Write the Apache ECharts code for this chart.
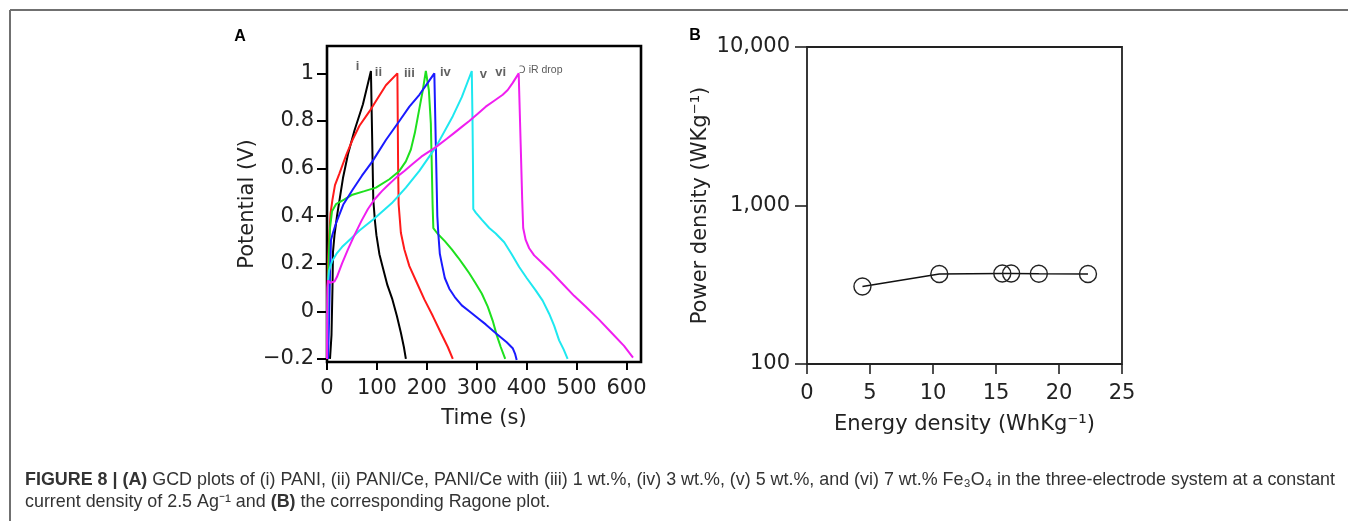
<!DOCTYPE html>
<html>
<head>
<meta charset="utf-8">
<script src="https://cdn.jsdelivr.net/npm/echarts@6/dist/echarts.min.js"></script>
<style>
  html, body { margin: 0; padding: 0; background: #fff; }
  #chart { width: 1348px; height: 521px; }
</style>
</head>
<body>
<div id="chart"></div>
<script>
// ---- panel A : GCD curves, [time (s), potential (V)] ----
var curveI = [[6,-0.2],[9,-0.1],[11,0.1],[12,0.25],[15,0.32],[20,0.40],[26,0.48],[32,0.56],[42,0.66],[55,0.76],[72,0.87],[88,1.01],
  [92.7,0.47],[96,0.38],[99,0.32],[105,0.24],[111,0.19],[121,0.11],[131,0.05],[140,-0.02],[148,-0.09],[154,-0.15],[158,-0.2]];
var curveII = [[0,-0.2],[0.5,0],[2,0.2],[4,0.3],[7,0.41],[11,0.47],[16,0.53],[25,0.58],[39,0.66],[51,0.72],[65,0.78],[85,0.84],[100,0.89],[118,0.95],[141,1.0],
  [142.5,0.6],[143.5,0.45],[148,0.33],[155,0.26],[165,0.19],[180,0.12],[195,0.05],[212,-0.02],[228,-0.09],[242,-0.15],[252,-0.2]];
var curveIII = [[0,-0.2],[2,0.1],[4,0.25],[6,0.35],[10,0.42],[18,0.45],[35,0.47],[51,0.49],[75,0.505],[98,0.52],[125,0.555],[145,0.59],[158,0.63],[168,0.68],[176,0.75],[184,0.84],[192,0.93],[198,1.01],
  [204,0.93],[208,0.79],[210,0.6],[211.5,0.45],[213,0.35],[222,0.325],[236,0.295],[250,0.26],[263,0.225],[275,0.19],[285,0.16],[297,0.12],[310,0.075],[322,0.02],[332,-0.04],[340,-0.1],[348,-0.15],[357,-0.2]];
var curveIV = [[2,-0.2],[4,-0.05],[6,0.15],[8,0.3],[12,0.33],[18,0.37],[33,0.45],[51,0.51],[70,0.57],[91,0.63],[118,0.72],[145,0.80],[165,0.86],[185,0.91],[200,0.955],[215,1.0],
  [218,0.7],[221,0.4],[223,0.326],[226,0.242],[231,0.19],[236,0.14],[245,0.095],[256,0.06],[270,0.025],[285,0.0],[300,-0.025],[318,-0.055],[340,-0.095],[360,-0.13],[372,-0.155],[377,-0.18],[380,-0.205]];
var curveV = [[0,-0.2],[1,0],[2,0.12],[4,0.17],[10,0.21],[20,0.245],[30,0.27],[45,0.30],[65,0.34],[95,0.39],[130,0.455],[158,0.52],[185,0.59],[218,0.69],[252,0.82],[270,0.9],[290,1.01],
  [291.5,0.8],[292.5,0.6],[293,0.43],[298,0.415],[310,0.385],[325,0.35],[338,0.327],[355,0.29],[370,0.24],[385,0.186],[400,0.14],[418,0.088],[432,0.045],[445,-0.01],[455,-0.06],[465,-0.122],[474,-0.16],[482,-0.2]];
var curveVI = [[0,-0.2],[0.5,0],[1,0.1],[2,0.13],[6,0.12],[10,0.115],[15,0.125],[20,0.145],[30,0.2],[42,0.26],[55,0.32],[69,0.38],[82,0.43],[95,0.47],[110,0.505],[122,0.53],[140,0.565],[155,0.59],[172,0.62],[189,0.65],[218,0.69],[240,0.725],[255,0.75],[270,0.775],[285,0.80],[302,0.83],[318,0.86],[335,0.885],[352,0.91],[362,0.93],[372,0.96],[384,1.0],
  [388,0.7],[391,0.47],[393,0.35],[398,0.30],[405,0.265],[415,0.235],[430,0.205],[445,0.175],[470,0.12],[495,0.065],[518,0.02],[545,-0.035],[570,-0.09],[595,-0.145],[613,-0.195]];

var curveColors = ['#000000', '#ff1a1a', '#1ee01e', '#1a1aff', '#1ee8f0', '#f01ef0'];

// curve labels
var labelTexts = ['i', 'ii', 'iii', 'iv', 'v', 'vi', '\u2183 iR drop'];
var labelTimes = [61, 103, 165, 237, 313, 348, 428];
var labelPots = [1.03, 1.005, 1.0, 1.005, 0.995, 1.005, 1.015];

var timeTicks = [0, 100, 200, 300, 400, 500, 600];
var potTicks = [-0.2, 0, 0.2, 0.4, 0.6, 0.8, 1];

// ---- panel B : Ragone plot ----
var energyDensity = [4.4, 10.5, 15.5, 16.2, 18.4, 22.3];
var powerDensity = [308, 370, 372, 372, 371, 370];

var chart = echarts.init(document.getElementById('chart'), null, { renderer: 'canvas' });

var curves = [curveI, curveII, curveIII, curveIV, curveV, curveVI];
var series = curves.map(function (c, i) {
  return {
    type: 'line', xAxisIndex: 0, yAxisIndex: 0,
    data: c, showSymbol: false, symbol: 'none', smooth: false,
    lineStyle: { color: curveColors[i], width: 2 },
    z: 2 + i
  };
});

series.push({
  type: 'scatter', xAxisIndex: 0, yAxisIndex: 0,
  symbolSize: 1, itemStyle: { color: 'transparent' },
  data: labelTexts.map(function (t, i) { return { name: t, value: [labelTimes[i], labelPots[i]] }; }),
  label: {
    show: true, position: 'inside',
    formatter: function (p) { return p.name.indexOf('iR') >= 0 ? '{s|' + p.name + '}' : '{m|' + p.name + '}'; },
    rich: {
      m: { fontFamily: 'Liberation Sans', fontWeight: 'bold', fontSize: 13, color: '#3a3a3a' },
      s: { fontFamily: 'Liberation Sans', fontSize: 10.5, color: '#303030' }
    }
  },
  z: 20
});

series.push({
  type: 'line', xAxisIndex: 1, yAxisIndex: 1,
  data: energyDensity.map(function (e, i) { return [e, powerDensity[i]]; }),
  symbol: 'circle', symbolSize: 17, showSymbol: true,
  lineStyle: { color: '#111', width: 1.6 },
  itemStyle: { color: 'transparent', borderColor: '#222', borderWidth: 1.4 }
});

var tickFont = { fontFamily: 'DejaVu Sans', fontSize: 21, color: '#222' };
var nameFont = { fontFamily: 'DejaVu Sans', fontSize: 21, color: '#222' };

var option = {
  animation: false,
  backgroundColor: '#fff',
  grid: [
    { left: 327, top: 46, width: 314, height: 316, show: true, borderColor: '#000', borderWidth: 2.6, backgroundColor: 'transparent', outerBoundsMode: 'none' },
    { left: 807, top: 47, width: 315, height: 317, show: true, borderColor: '#222', borderWidth: 1.8, backgroundColor: 'transparent', outerBoundsMode: 'none' }
  ],
  xAxis: [
    {
      gridIndex: 0, type: 'value', min: 0, max: 629,
      axisLine: { show: false, onZero: false },
      axisTick: { show: true, customValues: timeTicks, length: 8, lineStyle: { color: '#000', width: 2 } },
      axisLabel: Object.assign({ customValues: timeTicks, margin: 16 }, tickFont),
      splitLine: { show: false },
      name: 'Time (s)', nameLocation: 'middle', nameGap: 46, nameTextStyle: Object.assign({ verticalAlign: 'top' }, nameFont)
    },
    {
      gridIndex: 1, type: 'value', min: 0, max: 25, interval: 5,
      axisLine: { show: false, onZero: false },
      axisTick: { show: true, length: 10, lineStyle: { color: '#222', width: 1.6 } },
      axisLabel: Object.assign({ margin: 19 }, tickFont),
      splitLine: { show: false },
      name: 'Energy density (WhKg\u207B\u00B9)', nameLocation: 'middle', nameGap: 50, nameTextStyle: Object.assign({ verticalAlign: 'top' }, nameFont)
    }
  ],
  yAxis: [
    {
      gridIndex: 0, type: 'value', min: -0.213, max: 1.115,
      axisLine: { show: false, onZero: false },
      axisTick: { show: true, customValues: potTicks, length: 10, lineStyle: { color: '#000', width: 2 } },
      axisLabel: Object.assign({
        customValues: potTicks, margin: 13,
        formatter: function (v) { return v < 0 ? '\u2212' + Math.abs(v) : String(v); }
      }, tickFont),
      splitLine: { show: false },
      name: 'Potential (V)', nameLocation: 'middle', nameGap: 69, nameTextStyle: nameFont
    },
    {
      gridIndex: 1, type: 'log', logBase: 10, min: 100, max: 10000,
      axisLine: { show: false, onZero: false },
      axisTick: { show: true, length: 12, lineStyle: { color: '#222', width: 1.6 } },
      minorTick: { show: false },
      axisLabel: Object.assign({
        margin: 17,
        formatter: function (v) { return Math.round(v).toLocaleString('en-US'); }
      }, tickFont),
      splitLine: { show: false },
      name: 'Power density (WKg\u207B\u00B9)', nameLocation: 'middle', nameGap: 96, nameTextStyle: nameFont
    }
  ],
  series: series,
  graphic: [
    { type: 'line', shape: { x1: 10, y1: 10, x2: 1348, y2: 10 }, style: { stroke: '#707070', lineWidth: 2 } },
    { type: 'line', shape: { x1: 10, y1: 10, x2: 10, y2: 521 }, style: { stroke: '#707070', lineWidth: 2 } },
    { type: 'text', x: 240, y: 37, style: { text: 'A', font: 'bold 16px "Liberation Sans"', fill: '#000', align: 'center', verticalAlign: 'middle' } },
    { type: 'text', x: 695, y: 36, style: { text: 'B', font: 'bold 16px "Liberation Sans"', fill: '#000', align: 'center', verticalAlign: 'middle' } },
    {
      type: 'text', x: 25, y: 480,
      style: {
        text: '{b|FIGURE 8 | (A)} GCD plots of (i) PANI, (ii) PANI/Ce, PANI/Ce with (iii) 1 wt.%, (iv) 3 wt.%, (v) 5 wt.%, and (vi) 7 wt.% Fe\u2083O\u2084 in the three-electrode system at a constant',
        font: '17.9px "Liberation Sans"', fill: '#333', verticalAlign: 'middle',
        rich: { b: { fontWeight: 'bold', fontSize: 17.9, fontFamily: 'Liberation Sans', color: '#1a1a1a' } }
      }
    },
    {
      type: 'text', x: 25, y: 502.5,
      style: {
        text: 'current density of 2.5 Ag\u207B\u00B9 and {b|(B)} the corresponding Ragone plot.',
        font: '17.9px "Liberation Sans"', fill: '#333', verticalAlign: 'middle',
        rich: { b: { fontWeight: 'bold', fontSize: 17.9, fontFamily: 'Liberation Sans', color: '#1a1a1a' } }
      }
    }
  ]
};

chart.setOption(option);
</script>
</body>
</html>
